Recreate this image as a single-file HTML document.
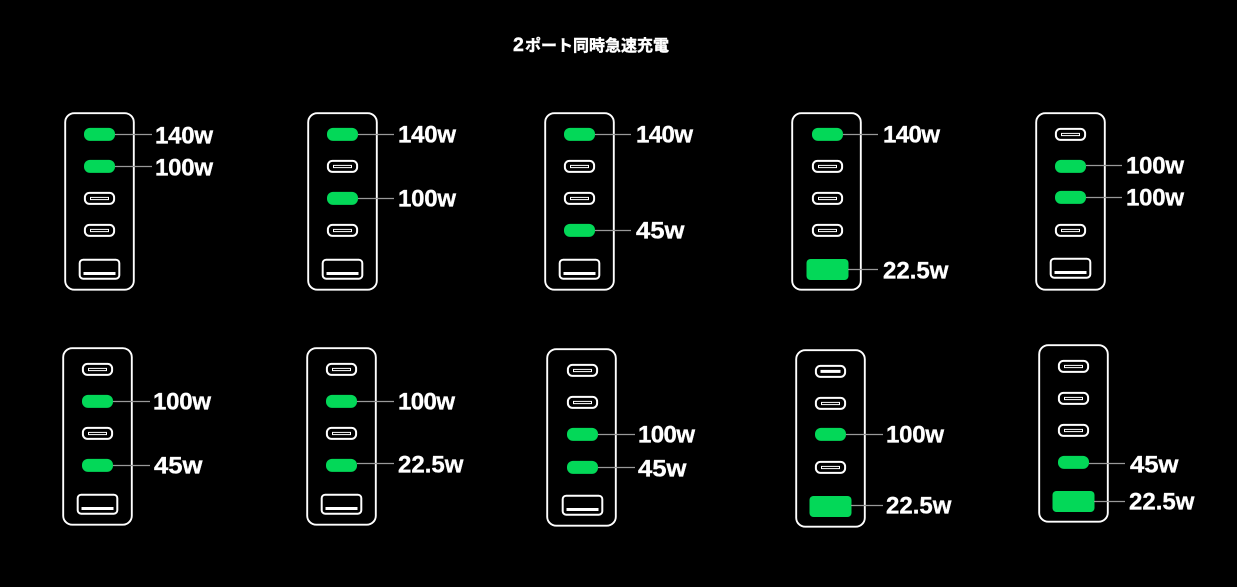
<!DOCTYPE html>
<html lang="ja"><head><meta charset="utf-8"><style>
html,body{margin:0;padding:0;background:#000;width:1237px;height:587px;overflow:hidden}
svg{display:block}
.l{font:bold 24px "Liberation Sans",sans-serif;fill:#fff;stroke:#fff;stroke-width:.35px;transform:translateY(-.7px)}
.t{font:bold 16px "Liberation Sans","Noto Sans CJK JP",sans-serif;fill:#fff;stroke:#fff;stroke-width:.4px}
.w{stroke:#999;stroke-width:1.3;fill:none}
</style></head><body>
<svg width="1237" height="587" viewBox="0 0 1237 587" xmlns="http://www.w3.org/2000/svg">
<defs>
<g id="b"><rect x="1.200" y="1.200" width="68.600" height="176.500" rx="9" fill="#000" stroke="#fff" stroke-width="1.900"/></g>
<g id="c"><rect x="-14.100" y="-5.100" width="29.200" height="11" rx="4.500" fill="none" stroke="#fff" stroke-width="2"/><rect x="-8.500" y="-.6" width="18" height="2.200" fill="none" stroke="#fff" stroke-width="1"/></g>
<g id="f"><rect x="-14.100" y="-5.100" width="29.200" height="11" rx="4.500" fill="none" stroke="#fff" stroke-width="2"/><rect x="-9.500" y="-1.100" width="20" height="3" fill="#fff"/></g>
<g id="C"><rect x="-15" y="-6.100" width="31" height="13" rx="6" fill="#03d858"/></g>
<g id="a"><rect x="-19.300" y="-9.300" width="39.600" height="19" rx="3.500" fill="none" stroke="#fff" stroke-width="2"/><rect x="-15.500" y="3" width="32" height="3" fill="#fff"/></g>
<g id="A"><rect x="-20.500" y="-10" width="42" height="21" rx="4" fill="#03d858"/></g>
</defs>
<text class="t" x="513" y="51"><tspan style="font-size:19.500px">2</tspan><tspan x="525" textLength="144" lengthAdjust="spacingAndGlyphs">ポート同時急速充電</tspan></text>

<g transform="translate(64,112)"><use href="#b"/>
<use href="#C" x="35" y="22"/><use href="#C" x="35" y="54"/><use href="#c" x="35" y="86"/><use href="#c" x="35" y="118"/><use href="#a" x="35" y="157"/>
<path class="w" d="M51 22.500H88M51 54.500H88"/>
<text class="l" x="91" y="32" textLength="58">140w</text><text class="l" x="91" y="64" textLength="58">100w</text></g>

<g transform="translate(307,112)"><use href="#b"/>
<use href="#C" x="35" y="22"/><use href="#c" x="35" y="54"/><use href="#C" x="35" y="86"/><use href="#c" x="35" y="118"/><use href="#a" x="35" y="157"/>
<path class="w" d="M51 22.500H87M51 86.500H87"/>
<text class="l" x="91" y="31" textLength="58">140w</text><text class="l" x="91" y="95" textLength="58">100w</text></g>

<g transform="translate(544,112)"><use href="#b"/>
<use href="#C" x="35" y="22"/><use href="#c" x="35" y="54"/><use href="#c" x="35" y="86"/><use href="#C" x="35" y="118"/><use href="#a" x="35" y="157"/>
<path class="w" d="M51 22.500H87M51 118.500H87"/>
<text class="l" x="92" y="31" textLength="57">140w</text><text class="l" x="92" y="127" textLength="48.500" lengthAdjust="spacingAndGlyphs">45w</text></g>

<g transform="translate(791,112)"><use href="#b"/>
<use href="#C" x="36" y="22"/><use href="#c" x="36" y="54"/><use href="#c" x="36" y="86"/><use href="#c" x="36" y="118"/><use href="#A" x="36" y="157"/>
<path class="w" d="M52 22.500H87M57 157.500H87"/>
<text class="l" x="92" y="31" textLength="57">140w</text><text class="l" x="92" y="167">22.5w</text></g>

<g transform="translate(1035,112)"><use href="#b"/>
<use href="#c" x="35" y="22"/><use href="#C" x="35" y="54"/><use href="#C" x="35" y="85"/><use href="#c" x="35" y="118"/><use href="#a" x="35" y="156"/>
<path class="w" d="M51 53.500H87M51 85.500H87"/>
<text class="l" x="91" y="62" textLength="58">100w</text><text class="l" x="91" y="94" textLength="58">100w</text></g>

<g transform="translate(62,347)"><use href="#b"/>
<use href="#c" x="35" y="22"/><use href="#C" x="35" y="54"/><use href="#c" x="35" y="86"/><use href="#C" x="35" y="118"/><use href="#a" x="35" y="157"/>
<path class="w" d="M51 54.500H88M51 118.500H88"/>
<text class="l" x="91" y="63" textLength="58">100w</text><text class="l" x="92" y="127" textLength="48.500" lengthAdjust="spacingAndGlyphs">45w</text></g>

<g transform="translate(306,347)"><use href="#b"/>
<use href="#c" x="35" y="22"/><use href="#C" x="35" y="54"/><use href="#c" x="35" y="86"/><use href="#C" x="35" y="118"/><use href="#a" x="35" y="157"/>
<path class="w" d="M51 54.500H88M51 116.500H88"/>
<text class="l" x="92" y="63" textLength="57">100w</text><text class="l" x="92" y="126">22.5w</text></g>

<g transform="translate(546,348)"><use href="#b"/>
<use href="#c" x="36" y="22"/><use href="#c" x="36" y="54"/><use href="#C" x="36" y="86"/><use href="#C" x="36" y="119"/><use href="#a" x="36" y="157"/>
<path class="w" d="M52 86.500H89M52 119.500H89"/>
<text class="l" x="92" y="95" textLength="57">100w</text><text class="l" x="92" y="129" textLength="48.500" lengthAdjust="spacingAndGlyphs">45w</text></g>

<g transform="translate(795,349)"><use href="#b"/>
<use href="#f" x="35" y="22"/><use href="#c" x="35" y="54"/><use href="#C" x="35" y="85"/><use href="#c" x="35" y="118"/><use href="#A" x="35" y="157"/>
<path class="w" d="M51 85.500H88M56 156.500H88"/>
<text class="l" x="91" y="94" textLength="58">100w</text><text class="l" x="91" y="165">22.5w</text></g>

<g transform="translate(1038,344)"><use href="#b"/>
<use href="#c" x="35" y="22"/><use href="#c" x="35" y="54"/><use href="#c" x="35" y="86"/><use href="#C" x="35" y="118"/><use href="#A" x="35" y="157"/>
<path class="w" d="M51 119.500H87M56 157.500H87"/>
<text class="l" x="92" y="129" textLength="48.500" lengthAdjust="spacingAndGlyphs">45w</text><text class="l" x="91" y="166">22.5w</text></g>
</svg>
</body></html>
